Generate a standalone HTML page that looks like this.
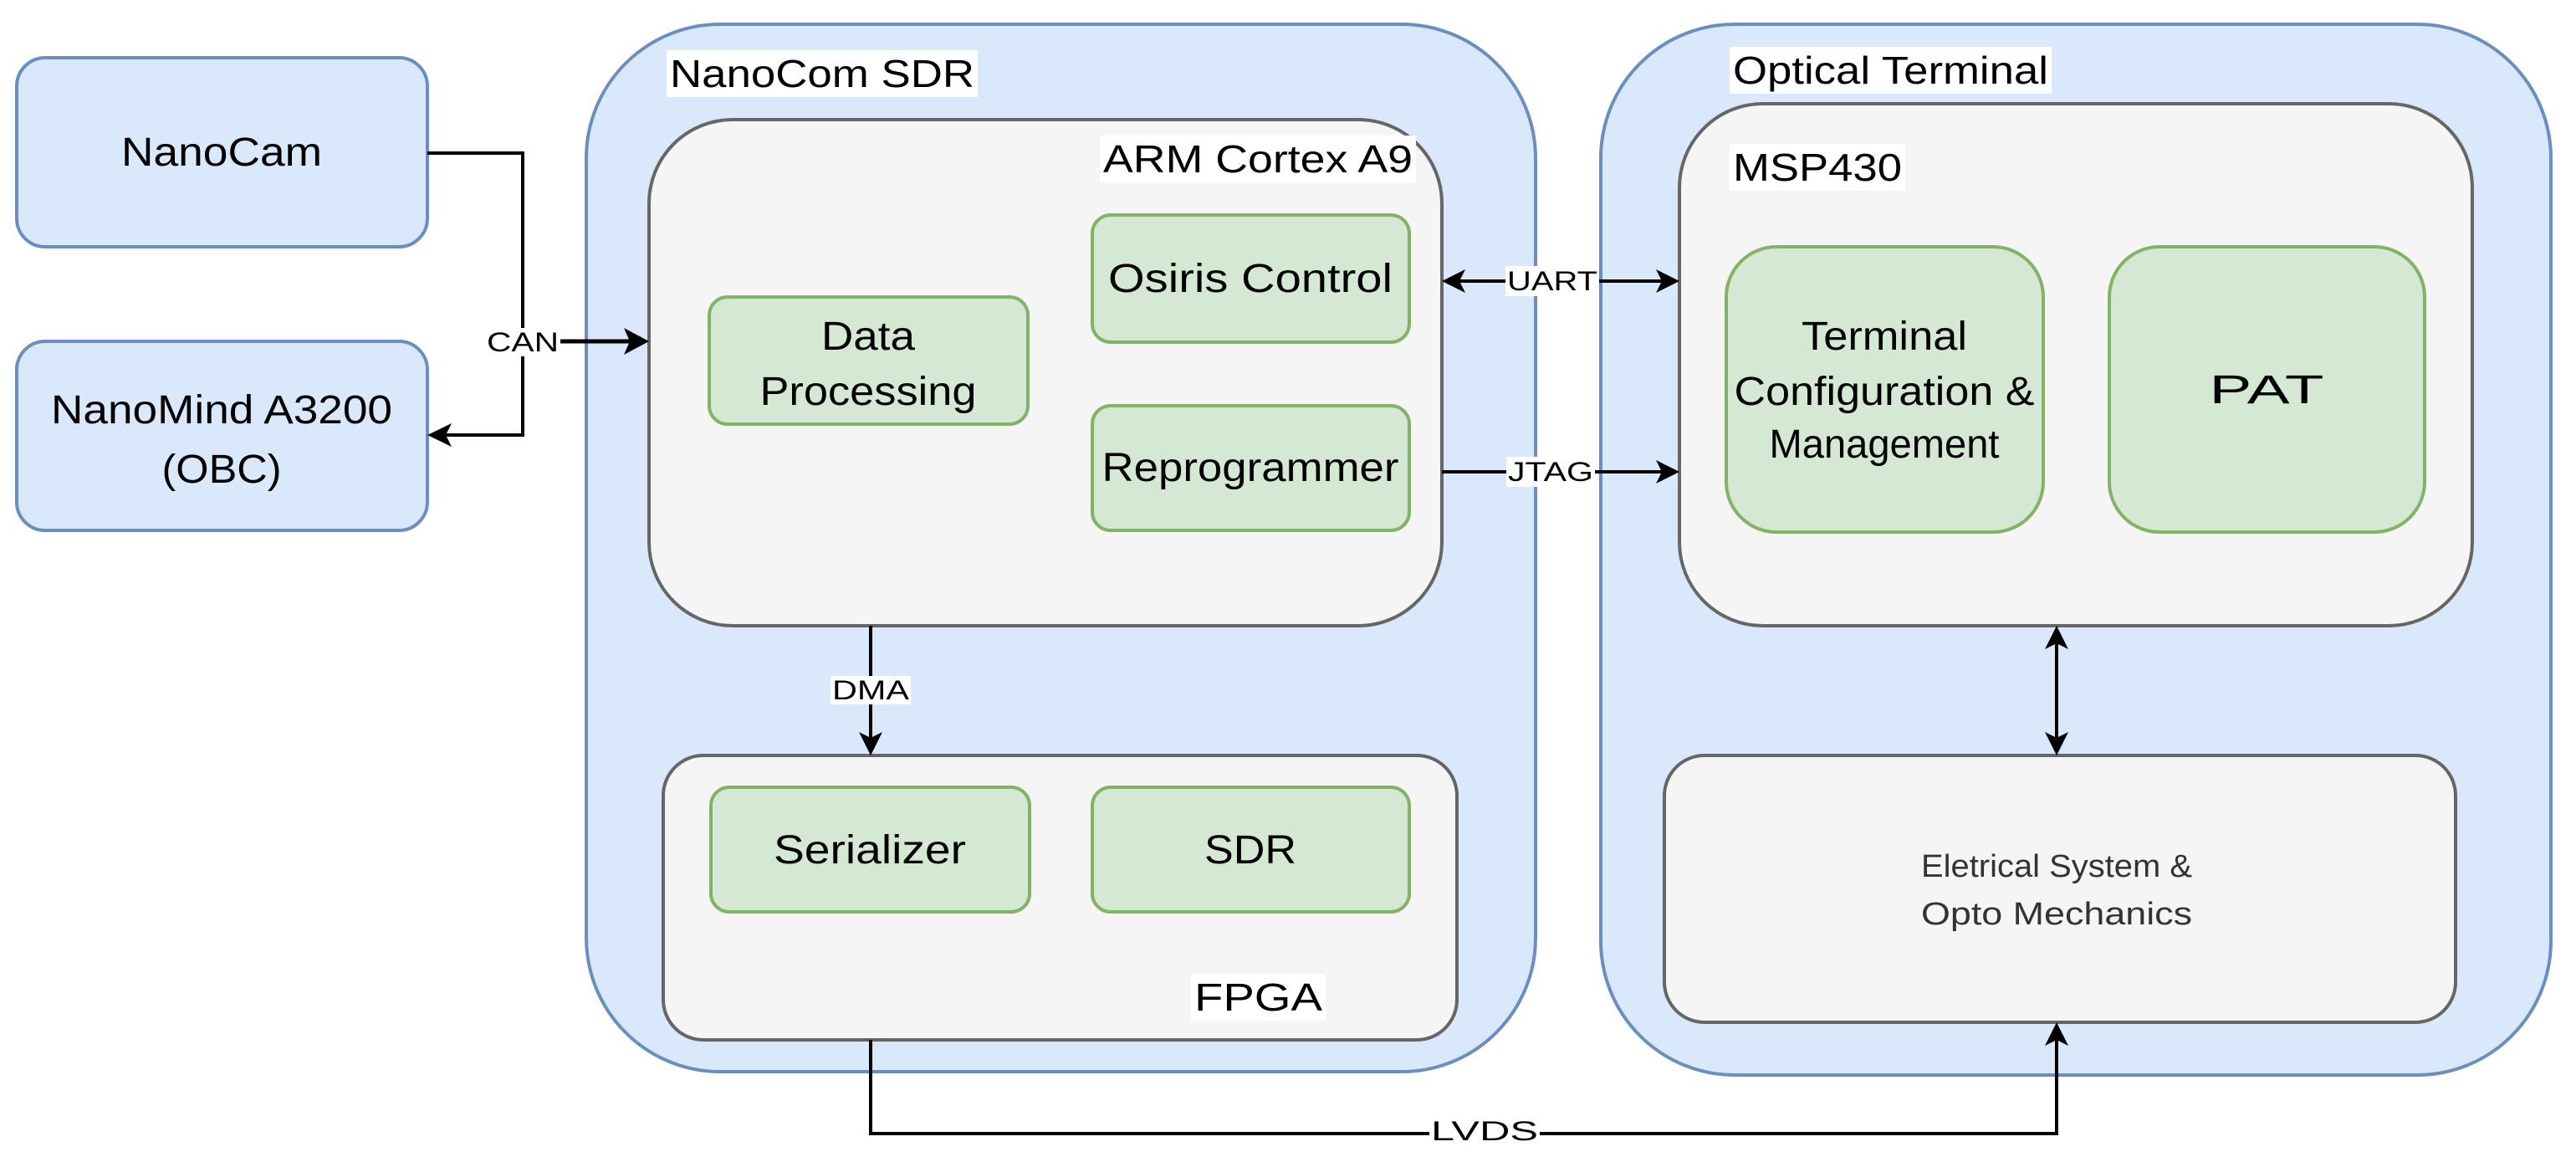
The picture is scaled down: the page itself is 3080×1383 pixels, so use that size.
<!DOCTYPE html>
<html><head><meta charset="utf-8"><style>
html,body{margin:0;padding:0;background:#fff;}
svg{display:block;}
text{font-family:"Liberation Sans",Arial,sans-serif;}
</style></head><body>
<svg width="3080" height="1383" viewBox="0 0 3080 1383" xmlns="http://www.w3.org/2000/svg">
<g stroke-width="4">
<rect x="20" y="69" width="491" height="226" rx="34" fill="#dae8fc" stroke="#6c8ebf"/>
<rect x="20" y="408" width="491" height="226" rx="34" fill="#dae8fc" stroke="#6c8ebf"/>
<rect x="701" y="29" width="1135" height="1252" rx="160" fill="#dae8fc" stroke="#6c8ebf"/>
<rect x="1914" y="29" width="1136" height="1256" rx="160" fill="#dae8fc" stroke="#6c8ebf"/>
<rect x="776" y="143" width="948" height="605" rx="100" fill="#f5f5f5" stroke="#666"/>
<rect x="793" y="903" width="949" height="340" rx="48" fill="#f5f5f5" stroke="#666"/>
<rect x="2008" y="124" width="948" height="624" rx="100" fill="#f5f5f5" stroke="#666"/>
<rect x="1990" y="903" width="946" height="319" rx="48" fill="#f5f5f5" stroke="#666"/>
<rect x="848" y="355" width="381" height="152" rx="22" fill="#d5e8d4" stroke="#82b366"/>
<rect x="1306" y="257" width="379" height="152" rx="22" fill="#d5e8d4" stroke="#82b366"/>
<rect x="1306" y="485" width="379" height="149" rx="22" fill="#d5e8d4" stroke="#82b366"/>
<rect x="850" y="941" width="381" height="149" rx="22" fill="#d5e8d4" stroke="#82b366"/>
<rect x="1306" y="941" width="379" height="149" rx="22" fill="#d5e8d4" stroke="#82b366"/>
<rect x="2064" y="295" width="379" height="341" rx="60" fill="#d5e8d4" stroke="#82b366"/>
<rect x="2522" y="295" width="377" height="341" rx="60" fill="#d5e8d4" stroke="#82b366"/>
</g>
<g stroke="#000" stroke-width="4" fill="none">
<polyline points="511,183 625,183 625,520 530,520"/>
<line x1="625" y1="408" x2="756" y2="408" stroke-width="5"/>
<line x1="1041" y1="748" x2="1041" y2="885"/>
<line x1="1744" y1="336" x2="1988" y2="336"/>
<line x1="1724" y1="564" x2="1988" y2="564"/>
<line x1="2459" y1="768" x2="2459" y2="883"/>
<polyline points="1041,1243 1041,1355 2459,1355 2459,1242"/>
</g>
<g fill="#000">
<polygon points="511,520 540,506 533,520 540,534"/>
<polygon points="776,408 746,392 753,408 746,424"/>
<polygon points="1041,903 1027,875 1041,882 1055,875"/>
<polygon points="1724,336 1752,322 1745,336 1752,350"/>
<polygon points="2008,336 1980,322 1987,336 1980,350"/>
<polygon points="2008,564 1980,550 1987,564 1980,578"/>
<polygon points="2459,748 2445,776 2459,769 2473,776"/>
<polygon points="2459,903 2445,875 2459,882 2473,875"/>
<polygon points="2459,1222 2445,1250 2459,1243 2473,1250"/>
</g>
<g font-size="32" text-anchor="middle" fill="#000" lengthAdjust="spacingAndGlyphs">
<rect x="580" y="392" width="90" height="34" fill="#fff"/>
<text x="625" y="420" textLength="86" lengthAdjust="spacingAndGlyphs">CAN</text>
<rect x="993" y="808" width="96" height="34" fill="#fff"/>
<text x="1041" y="836" textLength="92" lengthAdjust="spacingAndGlyphs">DMA</text>
<rect x="1800" y="318" width="112" height="36" fill="#fff"/>
<text x="1856" y="347" textLength="108" lengthAdjust="spacingAndGlyphs">UART</text>
<rect x="1801" y="546" width="106" height="36" fill="#fff"/>
<text x="1854" y="575" textLength="102" lengthAdjust="spacingAndGlyphs">JTAG</text>
<rect x="1709" y="1338" width="132" height="34" fill="#fff"/>
<text x="1775" y="1363" textLength="128" lengthAdjust="spacingAndGlyphs">LVDS</text>
</g>
<g font-size="46" fill="#000">
<rect x="797" y="60" width="372" height="56" fill="#fff"/>
<text x="801" y="104" textLength="364" lengthAdjust="spacingAndGlyphs">NanoCom SDR</text>
<rect x="1315" y="162" width="378" height="56" fill="#fff"/>
<text x="1319" y="206" textLength="370" lengthAdjust="spacingAndGlyphs">ARM Cortex A9</text>
<rect x="1424" y="1164" width="161" height="56" fill="#fff"/>
<text x="1428" y="1208" textLength="153" lengthAdjust="spacingAndGlyphs">FPGA</text>
<rect x="2068" y="56" width="385" height="56" fill="#fff"/>
<text x="2072" y="100" textLength="377" lengthAdjust="spacingAndGlyphs">Optical Terminal</text>
<rect x="2068" y="172" width="210" height="56" fill="#fff"/>
<text x="2072" y="216" textLength="202" lengthAdjust="spacingAndGlyphs">MSP430</text>
</g>
<g font-size="48" text-anchor="middle" fill="#000">
<text x="265" y="198" textLength="240" lengthAdjust="spacingAndGlyphs">NanoCam</text>
<text x="265" y="506" textLength="408" lengthAdjust="spacingAndGlyphs">NanoMind A3200</text>
<text x="265" y="577" textLength="143" lengthAdjust="spacingAndGlyphs">(OBC)</text>
<text x="1038" y="418" textLength="112" lengthAdjust="spacingAndGlyphs">Data</text>
<text x="1038" y="484" textLength="259" lengthAdjust="spacingAndGlyphs">Processing</text>
<text x="1495" y="349" textLength="340" lengthAdjust="spacingAndGlyphs">Osiris Control</text>
<text x="1495" y="575" textLength="355" lengthAdjust="spacingAndGlyphs">Reprogrammer</text>
<text x="1040" y="1032" textLength="230" lengthAdjust="spacingAndGlyphs">Serializer</text>
<text x="1495" y="1032" textLength="110" lengthAdjust="spacingAndGlyphs">SDR</text>
<text x="2253" y="418" textLength="198" lengthAdjust="spacingAndGlyphs">Terminal</text>
<text x="2253" y="484" textLength="359" lengthAdjust="spacingAndGlyphs">Configuration &amp;</text>
<text x="2253" y="547" textLength="275" lengthAdjust="spacingAndGlyphs">Management</text>
<text x="2710" y="482" textLength="137" lengthAdjust="spacingAndGlyphs">PAT</text>
</g>
<g font-size="38" text-anchor="middle" fill="#333">
<text x="2459" y="1048" textLength="324" lengthAdjust="spacingAndGlyphs">Eletrical System &amp;</text>
<text x="2459" y="1105" textLength="324" lengthAdjust="spacingAndGlyphs">Opto Mechanics</text>
</g>
</svg>
</body></html>
